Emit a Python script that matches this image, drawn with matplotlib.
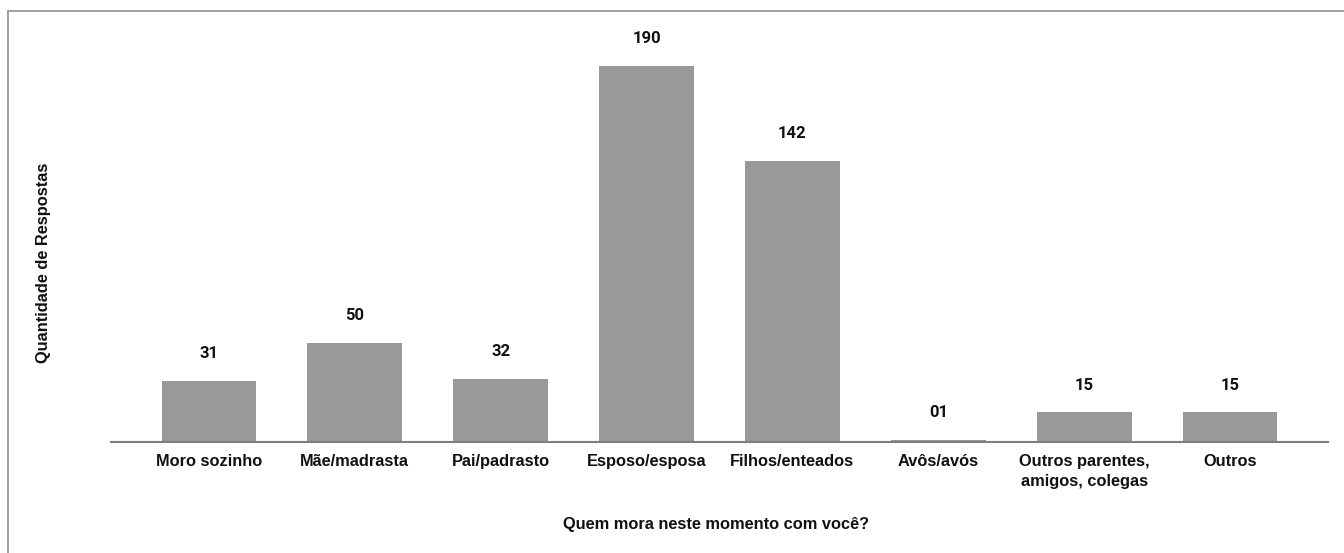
import matplotlib
matplotlib.use("Agg")
import matplotlib.pyplot as plt
from matplotlib.patches import Rectangle

categories = ["Moro sozinho", "Mãe/madrasta", "Pai/padrasto", "Esposo/esposa",
              "Filhos/enteados", "Avôs/avós", "Outros parentes,\namigos, colegas", "Outros"]
values = [31, 50, 32, 190, 142, 1, 15, 15]
value_labels = ["31", "50", "32", "190", "142", "01", "15", "15"]

W, H = 1344, 553
fig = plt.figure(figsize=(W / 100, H / 100), dpi=100)
fig.patch.set_facecolor("white")

ax = fig.add_axes([111 / W, (H - 442) / H, 1217 / W, 416 / H])
x = list(range(len(categories)))
ax.bar(x, values, width=0.65, color="#999999", zorder=2)
ax.set_xlim(-0.672, 7.672)
ax.set_ylim(0, 210)

for xi, v, lab in zip(x, values, value_labels):
    ax.annotate(lab, (xi, v), xytext=(0, 19.5), textcoords="offset points",
                ha="center", va="center", fontsize=12, fontweight="bold",
                family=["Roboto", "DejaVu Sans"], color="#111111")

ax.set_xticks(x)
ax.set_xticklabels(categories, fontsize=11.8, fontweight="bold",
                   family=["Liberation Sans", "DejaVu Sans"], color="#111111",
                   linespacing=1.4)
ax.tick_params(axis="x", length=0, pad=8.5)
ax.set_yticks([])
for s in ["top", "right", "left"]:
    ax.spines[s].set_visible(False)
ax.spines["bottom"].set_color("#7f7f7f")
ax.spines["bottom"].set_linewidth(1.5)
ax.spines["bottom"].set_zorder(3)

fig.text(716 / W, 1 - 525 / H, "Quem mora neste momento com você?", ha="center", va="center",
         fontsize=11.8, fontweight="bold", family=["Liberation Sans", "DejaVu Sans"], color="#111111")
fig.text(44 / W, 1 - 263 / H, "Quantidade de Respostas", ha="center", va="center", rotation=90,
         fontsize=11.8, fontweight="bold", family=["Liberation Sans", "DejaVu Sans"], color="#111111")

border = Rectangle((7.5 / W, -0.1), 1.2, 1 - 10.5 / H + 0.1, transform=fig.transFigure,
                   fill=False, edgecolor="#9e9e9e", linewidth=1.4, clip_on=False)
fig.patches.append(border)

fig.savefig("out.png", dpi=100)
